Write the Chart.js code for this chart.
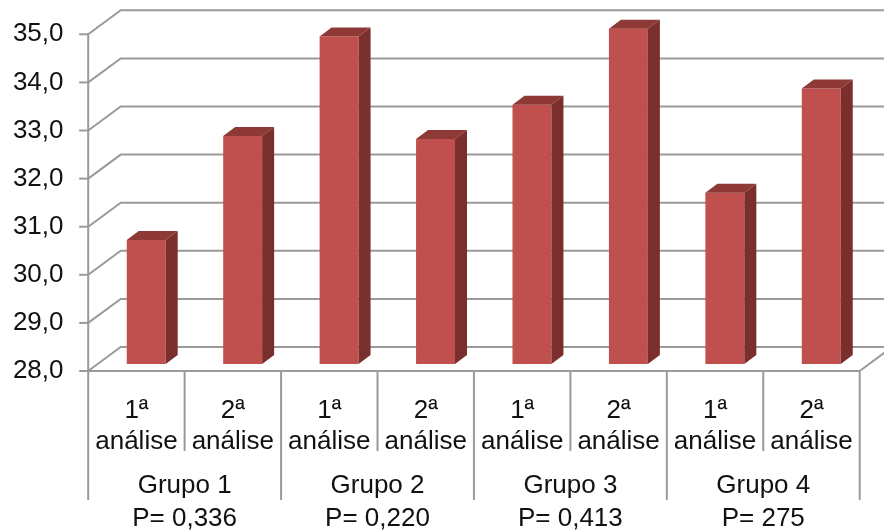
<!DOCTYPE html>
<html>
<head>
<meta charset="utf-8">
<script src="https://cdn.jsdelivr.net/npm/chart.js@4/dist/chart.umd.min.js"></script>
<style>
  html, body { margin: 0; padding: 0; background: #ffffff; }
  #wrap { width: 884px; height: 531px; }
</style>
</head>
<body>
<div id="wrap"><canvas id="chart" width="884" height="531"></canvas></div>
<script>
// Category labels (two lines each) and the group captions underneath
const categories = [
  ['1ª', 'análise'], ['2ª', 'análise'],
  ['1ª', 'análise'], ['2ª', 'análise'],
  ['1ª', 'análise'], ['2ª', 'análise'],
  ['1ª', 'análise'], ['2ª', 'análise']
];
const groups = ['Grupo 1', 'Grupo 2', 'Grupo 3', 'Grupo 4'];
const pValues = ['P= 0,336', 'P= 0,220', 'P= 0,413', 'P= 275'];

// Measured values, one per analysis
const values = [30.58, 32.74, 34.81, 32.68, 33.39, 34.97, 31.56, 33.73];

// Value axis
const yMin = 28;
const yMax = 35;
const yStep = 1;

const FONT = 'Liberation Sans, Arial, sans-serif';
const GRID = '#9a9a9a';

// Perspective offsets: front (axis) plane, back wall, and bar depth, relative to the bar plane
const FRONT = { dx: -9.8, dy: 7 };
const BACK = { dx: 22.7, dy: -17 };
const DEPTH = { dx: 12, dy: -9 };

const box3d = {
  id: 'box3d',
  beforeDatasetsDraw(chart) {
    const { ctx, chartArea } = chart;
    const ys = chart.scales.y;
    const L = chartArea.left, R = chartArea.right;
    ctx.save();
    ctx.strokeStyle = GRID;
    ctx.lineWidth = 2;
    ctx.lineCap = 'butt';
    // back wall gridlines + left wall diagonals
    ys.ticks.forEach(t => {
      const y = ys.getPixelForValue(t.value);
      ctx.beginPath();
      ctx.moveTo(L + FRONT.dx, y + FRONT.dy);
      ctx.lineTo(L + BACK.dx, y + BACK.dy);
      ctx.lineTo(R + BACK.dx + 40, y + BACK.dy);
      ctx.stroke();
      // tick mark on the front axis
      ctx.beginPath();
      ctx.moveTo(L + FRONT.dx - 9, y + FRONT.dy);
      ctx.lineTo(L + FRONT.dx, y + FRONT.dy);
      ctx.stroke();
    });
    const yTop = ys.getPixelForValue(yMax);
    const yBase = ys.getPixelForValue(yMin);
    // front vertical axis
    ctx.beginPath();
    ctx.moveTo(L + FRONT.dx, yTop + FRONT.dy);
    ctx.lineTo(L + FRONT.dx, yBase + FRONT.dy);
    ctx.stroke();
    // floor front edge and right diagonal
    ctx.beginPath();
    ctx.moveTo(L + FRONT.dx, yBase + FRONT.dy);
    ctx.lineTo(R + FRONT.dx, yBase + FRONT.dy);
    ctx.lineTo(R + BACK.dx, yBase + BACK.dy);
    ctx.stroke();
    // category separators below the floor
    const n = values.length;
    const cw = (R - L) / n;
    for (let i = 0; i <= n; i++) {
      const x = L + i * cw + FRONT.dx;
      ctx.beginPath();
      ctx.moveTo(x, yBase + FRONT.dy);
      ctx.lineTo(x, i % 2 === 0 ? 500 : 451);
      ctx.stroke();
    }
    ctx.restore();
  },
  afterDatasetsDraw(chart) {
    const { ctx } = chart;
    const ys = chart.scales.y;
    const base = ys.getPixelForValue(yMin);
    const meta = chart.getDatasetMeta(0);
    ctx.save();
    meta.data.forEach(bar => {
      const { x, y, width } = bar.getProps(['x', 'y', 'width'], true);
      const l = x - width / 2, r = x + width / 2;
      // top face
      ctx.fillStyle = '#8e3936';
      ctx.beginPath();
      ctx.moveTo(l, y);
      ctx.lineTo(r, y);
      ctx.lineTo(r + DEPTH.dx, y + DEPTH.dy);
      ctx.lineTo(l + DEPTH.dx, y + DEPTH.dy);
      ctx.closePath();
      ctx.fill();
      // side face
      ctx.fillStyle = '#7b2f2d';
      ctx.beginPath();
      ctx.moveTo(r, y);
      ctx.lineTo(r + DEPTH.dx, y + DEPTH.dy);
      ctx.lineTo(r + DEPTH.dx, base + DEPTH.dy);
      ctx.lineTo(r, base);
      ctx.closePath();
      ctx.fill();
    });
    ctx.restore();
  },
  afterDraw(chart) {
    const { ctx } = chart;
    const xs = chart.scales.x;
    ctx.save();
    ctx.fillStyle = '#111111';
    ctx.font = '26px ' + FONT;
    ctx.textAlign = 'center';
    ctx.textBaseline = 'alphabetic';
    groups.forEach((g, i) => {
      const cx = (xs.getPixelForValue(2 * i) + xs.getPixelForValue(2 * i + 1)) / 2 + FRONT.dx;
      ctx.fillText(g, cx, 493);
      ctx.fillText(pValues[i], cx, 526);
    });
    ctx.restore();
  }
};

new Chart(document.getElementById('chart'), {
  type: 'bar',
  data: {
    labels: categories,
    datasets: [{
      data: values,
      backgroundColor: '#c0504d',
      borderWidth: 0,
      barPercentage: 0.404,
      categoryPercentage: 1.0
    }]
  },
  options: {
    responsive: false,
    animation: false,
    events: [],
    layout: { padding: { top: 27.3, right: 14.5, bottom: 0, left: 0 } },
    plugins: { legend: { display: false }, tooltip: { enabled: false } },
    scales: {
      x: {
        grid: { display: false },
        border: { display: false },
        afterFit(scale) {
          scale.height = 167;
          scale.paddingLeft = 0;
          scale.paddingRight = 0;
        },
        ticks: {
          color: '#111111',
          font: { family: FONT, size: 26 },
          padding: 23,
          labelOffset: FRONT.dx,
          maxRotation: 0,
          autoSkip: false
        }
      },
      y: {
        min: yMin,
        max: yMax,
        grid: { display: false, drawTicks: false },
        border: { display: false },
        afterFit(scale) {
          scale.width = 98;
          scale.paddingTop = 0;
          scale.paddingBottom = 0;
        },
        ticks: {
          stepSize: yStep,
          color: '#111111',
          font: { family: FONT, size: 26 },
          padding: 34.5,
          labelOffset: FRONT.dy,
          callback: v => v.toFixed(1).replace('.', ',')
        }
      }
    }
  },
  plugins: [box3d]
});
</script>
</body>
</html>
